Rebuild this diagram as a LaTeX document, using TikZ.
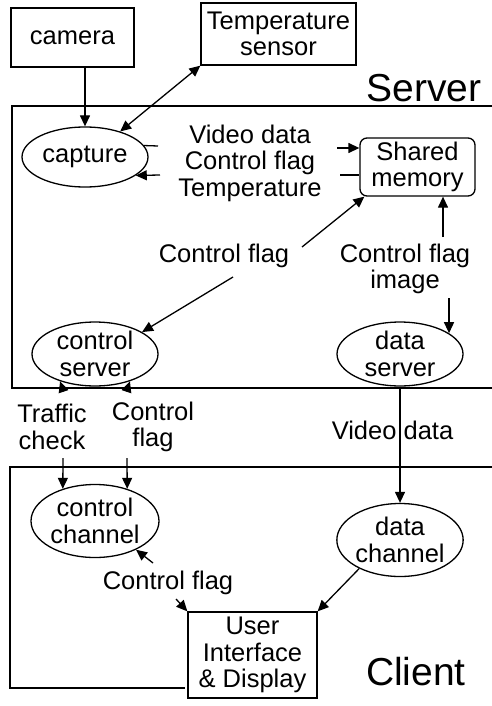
\documentclass[tikz,border=0pt]{standalone}
\usepackage{fontspec}
\setmainfont{Liberation Sans}
\usetikzlibrary{shapes.geometric,arrows.meta,calc}
\begin{document}
\begin{tikzpicture}[x=1pt,y=-1pt,
  every node/.style={font=\fontsize{25.5}{26.5}\selectfont, inner sep=0pt, align=center},
  ln/.style={line width=1.3pt},
  arr/.style={ln,-{Triangle[length=11pt,width=10pt]}},
  darr/.style={ln,{Triangle[length=11pt,width=10pt]}-{Triangle[length=11pt,width=10pt]}},
  ell/.style={draw,ellipse,line width=1.3pt,minimum width=126pt,minimum height=58pt},
  box/.style={draw,rectangle,line width=1.3pt},
  big/.style={font=\fontsize{39}{42}\selectfont}]
\fill[white] (0,0) rectangle (492,706);
\useasboundingbox (0,0) rectangle (492,706);

% frames
\draw[ln] (492,106) -- (12,106) -- (12,388) -- (492,388);
\draw[ln] (492,467) -- (10,467) -- (10,688) -- (185,688);

% nodes
\node[box,minimum width=123pt,minimum height=59pt] (camera) at (72.5,37.5) {camera};
\node[box,minimum width=155pt,minimum height=62pt] (tsens) at (278.5,34) {Temperature\\sensor};
\node[big,anchor=base] (lserver) at (424,102) {Server};
\node[ell,minimum height=60pt] (capture) at (85,157) {capture};
\node[box,rounded corners=7pt,minimum width=115pt,minimum height=58pt] (shm) at (417.5,167) {Shared\\memory};
\node (ltemp) at (250,163) {Video data\\Control flag\\Temperature};
\node (lcf1) at (224,256) {Control flag};
\node (lcfi) at (405,269) {Control flag\\image};
\node[ell] (cserver) at (95,354) {control\\server};
\node[ell] (dserver) at (400,354) {data\\server};
\node (ltraf) at (52,427) {Traffic\\check};
\node (lcf2) at (153,427) {Control\\flag};
\node (lvid) at (392.5,430) {Video data};
\node[ell,minimum width=128pt,minimum height=73pt] (cchannel) at (95,521) {control\\channel};
\node[ell,minimum height=73pt] (dchannel) at (400,540) {data\\channel};
\node (lcf3) at (168,583) {Control flag};
\node[box,minimum width=129pt,minimum height=86pt] (ui) at (252.5,655) {User\\Interface\\\& Display};
\node[big,anchor=base] (lclient) at (416,685) {Client};

% connectors
\draw[arr] (capture.north |- camera.south) -- (capture.north);
\draw[darr] (tsens.south west) -- (capture.36);

\coordinate (c1) at (158,146);
\draw[ln] (capture.11) -- (c1);
\coordinate (c2) at (337,148);
\draw[arr] (c2) -- (c2 -| shm.west);
\coordinate (c3) at (160,175);
\draw[arr] (c3) -- (capture.-20);
\coordinate (c4) at (340,175);
\draw[ln] (c4) -- (c4 -| shm.west);

\coordinate (c5) at (302,247);
\draw[arr] (c5) -- ([xshift=5pt]shm.south west);
\coordinate (c6) at (233,277);
\draw[arr] (c6) -- (cserver.25);

\coordinate (c7) at (443,237);
\draw[arr] (c7) -- (c7 |- shm.south);
\coordinate (c8) at (446,298);
\draw[arr] (dserver.23 |- c8) -- (dserver.23);

\coordinate (t1) at (63,390);
\draw[arr] (t1) -- (cserver.218);
\coordinate (t2) at (127,390);
\draw[arr] (t2) -- (cserver.-38);
\coordinate (t3) at (63,458);
\draw[arr] (t3) -- (cchannel.135);
\coordinate (t4) at (127,458);
\draw[arr] (t4) -- (cchannel.45);

\draw[arr] (dserver.south) -- (dchannel.north);
\draw[arr] (dchannel.215) -- (ui.north east);

\coordinate (t5) at (153,563);
\draw[arr] (t5) -- (cchannel.-35);
\coordinate (t6) at (176,599);
\draw[arr] (t6) -- (ui.north west);
\end{tikzpicture}
\end{document}
